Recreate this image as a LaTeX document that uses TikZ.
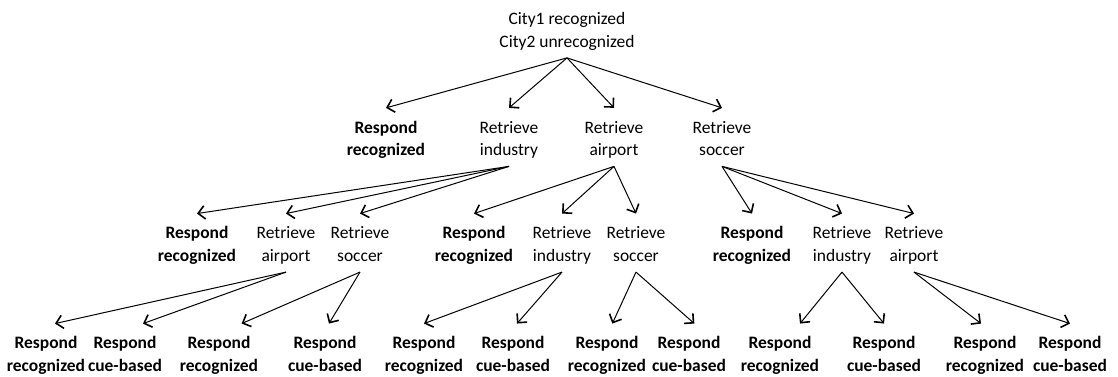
\documentclass[tikz,border=0pt]{standalone}
\usepackage{fontspec}
\setmainfont{Carlito}
\usetikzlibrary{arrows.meta}

\begin{document}
\begin{tikzpicture}[
  x=0.75pt, y=-0.75pt,
  font=\fontsize{13.1}{17}\selectfont,
  opt/.style={align=center, anchor=base, inner sep=0pt,
    text height=35.75pt, text depth=7.75pt},
  resp/.style={opt, font=\fontsize{13.1}{17}\selectfont\bfseries},
  arr/.style={-{Straight Barb[length=5pt, width=10pt, line width=1.2pt]}, line width=0.75pt}
]
\useasboundingbox (0,0) rectangle (1118,377);

% root
\node[opt] (root) at (567,47.3) {City1 recognized\\City2 unrecognized};

% first choice
\node[resp] (rec) at (386,155.8) {Respond\\recognized};
\node[opt] (ind) at (509,155.8) {Retrieve\\industry};
\node[opt] (air) at (614,155.8) {Retrieve\\airport};
\node[opt] (soc) at (722,155.8) {Retrieve\\soccer};

% second choice
\node[resp] (ind-rec) at (197,261.5) {Respond\\recognized};
\node[opt] (ind-air) at (286,261.5) {Retrieve\\airport};
\node[opt] (ind-soc) at (360,261.5) {Retrieve\\soccer};
\node[resp] (air-rec) at (474,261.5) {Respond\\recognized};
\node[opt] (air-ind) at (562,261.5) {Retrieve\\industry};
\node[opt] (air-soc) at (636,261.5) {Retrieve\\soccer};
\node[resp] (soc-rec) at (752,261.5) {Respond\\recognized};
\node[opt] (soc-ind) at (842,261.5) {Retrieve\\industry};
\node[opt] (soc-air) at (914,261.5) {Retrieve\\airport};

% last choice
\node[resp] (ind-air-rec) at (46,371.5) {Respond\\recognized};
\node[resp] (ind-air-cue) at (125,371.5) {Respond\\cue-based};
\node[resp] (ind-soc-rec) at (219,371.5) {Respond\\recognized};
\node[resp] (ind-soc-cue) at (325,371.5) {Respond\\cue-based};
\node[resp] (air-ind-rec) at (424,371.5) {Respond\\recognized};
\node[resp] (air-ind-cue) at (513,371.5) {Respond\\cue-based};
\node[resp] (air-soc-rec) at (607,371.5) {Respond\\recognized};
\node[resp] (air-soc-cue) at (689,371.5) {Respond\\cue-based};
\node[resp] (soc-ind-rec) at (780,371.5) {Respond\\recognized};
\node[resp] (soc-ind-cue) at (884,371.5) {Respond\\cue-based};
\node[resp] (soc-air-rec) at (985,371.5) {Respond\\recognized};
\node[resp] (soc-air-cue) at (1070,371.5) {Respond\\cue-based};

\draw[arr] (root.south) -- (rec.north);
\draw[arr] (root.south) -- (ind.north);
\draw[arr] (root.south) -- (air.north);
\draw[arr] (root.south) -- (soc.north);

\draw[arr] (ind.south) -- (ind-rec.north);
\draw[arr] (ind.south) -- (ind-air.north);
\draw[arr] (ind.south) -- (ind-soc.north);
\draw[arr] (air.south) -- (air-rec.north);
\draw[arr] (air.south) -- (air-ind.north);
\draw[arr] (air.south) -- (air-soc.north);
\draw[arr] (soc.south) -- (soc-rec.north);
\draw[arr] (soc.south) -- (soc-ind.north);
\draw[arr] (soc.south) -- (soc-air.north);

\draw[arr] (ind-air.south) -- ([xshift=6.75pt]ind-air-rec.north);
\draw[arr] (ind-air.south) -- ([xshift=13.5pt]ind-air-cue.north);
\draw[arr] (ind-soc.south) -- ([xshift=17pt]ind-soc-rec.north);
\draw[arr] (ind-soc.south) -- ([xshift=3pt]ind-soc-cue.north);
\draw[arr] (air-ind.south) -- (air-ind-rec.north);
\draw[arr] (air-ind.south) -- ([xshift=3pt]air-ind-cue.north);
\draw[arr] (air-soc.south) -- ([xshift=4pt]air-soc-rec.north);
\draw[arr] (air-soc.south) -- ([xshift=4pt]air-soc-cue.north);
\draw[arr] (soc-ind.south) -- ([xshift=15pt]soc-ind-rec.north);
\draw[arr] (soc-ind.south) -- (soc-ind-cue.north);
\draw[arr] (soc-air.south) -- ([xshift=-3pt]soc-air-rec.north);
\draw[arr] (soc-air.south) -- (soc-air-cue.north);
\end{tikzpicture}
\end{document}
